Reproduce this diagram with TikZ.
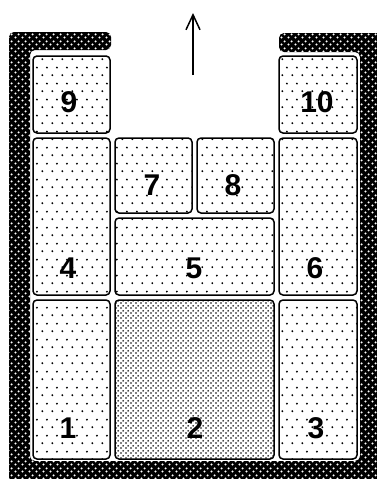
\documentclass[tikz,border=0pt]{standalone}
\usepackage{fontspec}
\setsansfont{Liberation Sans}
\usetikzlibrary{positioning, calc, arrows.meta, patterns.meta}

% punti radi nei blocchi
\tikzdeclarepattern{
  name=puntiradi,
  type=uncolored,
  bounding box={(0pt,0pt) and (10pt,16pt)},
  tile size={(10pt,16pt)},
  code={\fill (2.5pt,4pt) circle (1.1pt); \fill (7.5pt,12pt) circle (1.1pt);}
}
% punti fitti nel blocco 2
\tikzdeclarepattern{
  name=puntifitti,
  type=uncolored,
  bounding box={(0pt,0pt) and (5pt,5pt)},
  tile size={(5pt,5pt)},
  code={\fill (1.25pt,1.25pt) circle (1.05pt); \fill (3.75pt,3.75pt) circle (1.05pt);}
}
% punti bianchi della parete
\tikzdeclarepattern{
  name=puntiparete,
  type=uncolored,
  bounding box={(0pt,0pt) and (7pt,7pt)},
  tile size={(7pt,7pt)},
  code={\fill (1.75pt,1.75pt) circle (1.3pt); \fill (5.25pt,5.25pt) circle (1.3pt);}
}

\tikzset{
  blocco/.style={draw, line width=1.5pt, rounded corners=4pt, pattern={puntiradi}, pattern color=black},
  bloccoscuro/.style={draw, line width=1.5pt, rounded corners=4pt, pattern={puntifitti}, pattern color=black},
  numero/.style={font=\sffamily\bfseries\fontsize{30}{31}\selectfont, inner sep=1pt}
}

\begin{document}
\begin{tikzpicture}[x=1pt, y=-1pt]
        \useasboundingbox (0,0) rectangle (377,479);
        \clip (0,0) rectangle (377,479);
        %disegno parete
        \fill[black, rounded corners=5pt] (111,32) -- (9,32) -- (9,490) -- (390,490) -- (390,33) -- (279,33) -- (279,52) -- (360,52) -- (360,461) -- (30,461) -- (30,50) -- (111,50) -- cycle;
        \fill[pattern={puntiparete}, pattern color=white, rounded corners=5pt] (111,32) -- (9,32) -- (9,490) -- (390,490) -- (390,33) -- (279,33) -- (279,52) -- (360,52) -- (360,461) -- (30,461) -- (30,50) -- (111,50) -- cycle;
        %disegno freccia
        \coordinate (basefreccia) at (193,75);
        \coordinate (puntafreccia) at (193,13);
        \draw[line width=1.5pt, -{Straight Barb[length=15pt,width=14pt,line width=1.5pt]}] (basefreccia) -- (puntafreccia);
        %disegno blocchi in alto
        \draw[blocco] (33,56) rectangle (110,133);
        \draw[blocco] (279,56) rectangle (357,133);
        \node[numero] (n9) at (69,102) {9};
        \node[numero] (n10) at (317,102) {10};
        %disegno blocchi centrali
        \draw[blocco] (33,138) rectangle (110,295);
        \draw[blocco] (115,138) rectangle (192,213);
        \draw[blocco] (197,138) rectangle (274,213);
        \draw[blocco] (115,218) rectangle (274,295);
        \draw[blocco] (279,138) rectangle (357,295);
        \node[numero] (n7) at (152,185) {7};
        \node[numero] (n8) at (233,185) {8};
        \node[numero] (n4) at (68,268) {4};
        \node[numero] (n5) at (194,268) {5};
        \node[numero] (n6) at (315,268) {6};
        %disegno blocchi in basso
        \draw[blocco] (33,300) rectangle (110,459);
        \draw[bloccoscuro] (115,300) rectangle (274,459);
        \draw[blocco] (279,300) rectangle (357,459);
        \node[numero] (n1) at (68,428) {1};
        \node[numero] (n2) at (195,428) {2};
        \node[numero] (n3) at (316,428) {3};
    \end{tikzpicture}
\end{document}
